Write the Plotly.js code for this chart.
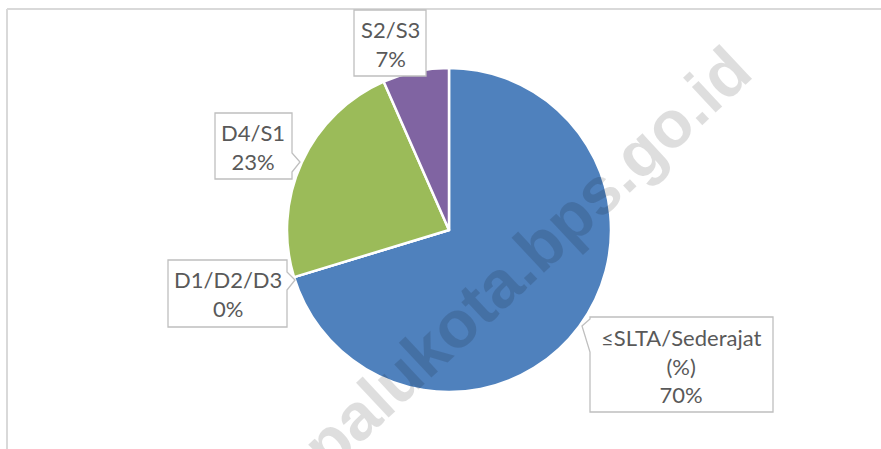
<!DOCTYPE html>
<html>
<head>
<meta charset="utf-8">
<script src="https://cdn.plot.ly/plotly-3.0.1.min.js"></script>
<style>html,body{margin:0;padding:0;background:#fff;}#chart{width:881px;height:449px;}</style>
</head>
<body>
<div id="chart"></div>
<script>
// Data
const categories = ["≤SLTA/Sederajat (%)", "D1/D2/D3", "D4/S1", "S2/S3"];
const values = [70.3, 0, 23.1, 6.6];
const colors = ["#4F81BD", "#C0504D", "#9BBB59", "#8064A2"];
const watermarkText = "palukota.bps.go.id";

const W = 881, H = 449;
const px = x => x / W;
const py = y => 1 - y / H;

const total = values.reduce((a, b) => a + b, 0);
const labelText = categories.map((c, i) =>
  c.replace(" (", "<br>(") + "<br>" + Math.round(values[i] / total * 100) + "%");

// callout layout (pixel positions of boxes & text centres)
const callouts = [
  {box: [590, 317, 773, 412], notch: {side: "left", a: 319, b: 352, tip: [582, 326]}, tx: 681, ty: 366},
  {box: [168, 260, 287, 327], notch: {side: "right", a: 272, b: 290, tip: [295, 280]}, tx: 228, ty: 294},
  {box: [215, 113, 292, 179], notch: {side: "right", a: 153, b: 172, tip: [300, 162]}, tx: 253, ty: 147},
  {box: [354, 10, 426, 76], notch: null, tx: 390, ty: 44}
];

function calloutPath(c) {
  const [x0, y0, x1, y1] = c.box;
  const P = (x, y) => px(x) + "," + py(y);
  let d = "M" + P(x0, y0) + " L" + P(x1, y0);
  if (c.notch && c.notch.side === "right") {
    d += " L" + P(x1, c.notch.a) + " L" + P(c.notch.tip[0], c.notch.tip[1]) + " L" + P(x1, c.notch.b);
  }
  d += " L" + P(x1, y1) + " L" + P(x0, y1);
  if (c.notch && c.notch.side === "left") {
    d += " L" + P(x0, c.notch.b) + " L" + P(c.notch.tip[0], c.notch.tip[1]) + " L" + P(x0, c.notch.a);
  }
  d += " Z";
  return d;
}

const shapes = [
  {type: "line", xref: "paper", yref: "paper", x0: px(7), x1: px(881), y0: py(9), y1: py(9),
   line: {color: "#d9d9d9", width: 2}},
  {type: "line", xref: "paper", yref: "paper", x0: px(7), x1: px(7), y0: py(9), y1: py(449),
   line: {color: "#d9d9d9", width: 2}}
];
callouts.forEach(c => shapes.push({
  type: "path", xref: "paper", yref: "paper", path: calloutPath(c),
  line: {color: "#bfbfbf", width: 1.3}, fillcolor: "#ffffff", layer: "above"
}));

const annotations = callouts.map((c, i) => ({
  xref: "paper", yref: "paper", x: px(c.tx), y: py(c.ty), xanchor: "center", yanchor: "middle",
  text: labelText[i], showarrow: false, align: "center",
  font: {family: "Lato, 'Open Sans', sans-serif", size: 22, color: "#595959"}
}));
annotations.push({
  xref: "paper", yref: "paper", x: px(526), y: py(258), xanchor: "center", yanchor: "middle",
  text: watermarkText, showarrow: false, textangle: -43,
  font: {family: "'Liberation Sans', Arial, sans-serif", size: 66, color: "rgba(0,0,0,0.13)", weight: "bold"}
});

const trace = {
  type: "pie",
  labels: categories,
  values: values,
  sort: false,
  direction: "clockwise",
  rotation: 0,
  textinfo: "none",
  hoverinfo: "label+percent",
  marker: {colors: colors, line: {color: "#ffffff", width: 2.5}},
  domain: {x: [px(287), px(611)], y: [py(392), py(68)]}
};

Plotly.newPlot("chart", [trace], {
  width: W, height: H,
  margin: {l: 0, r: 0, t: 0, b: 0},
  paper_bgcolor: "#ffffff",
  showlegend: false,
  shapes: shapes,
  annotations: annotations
}, {displayModeBar: false, staticPlot: true});
</script>
</body>
</html>
